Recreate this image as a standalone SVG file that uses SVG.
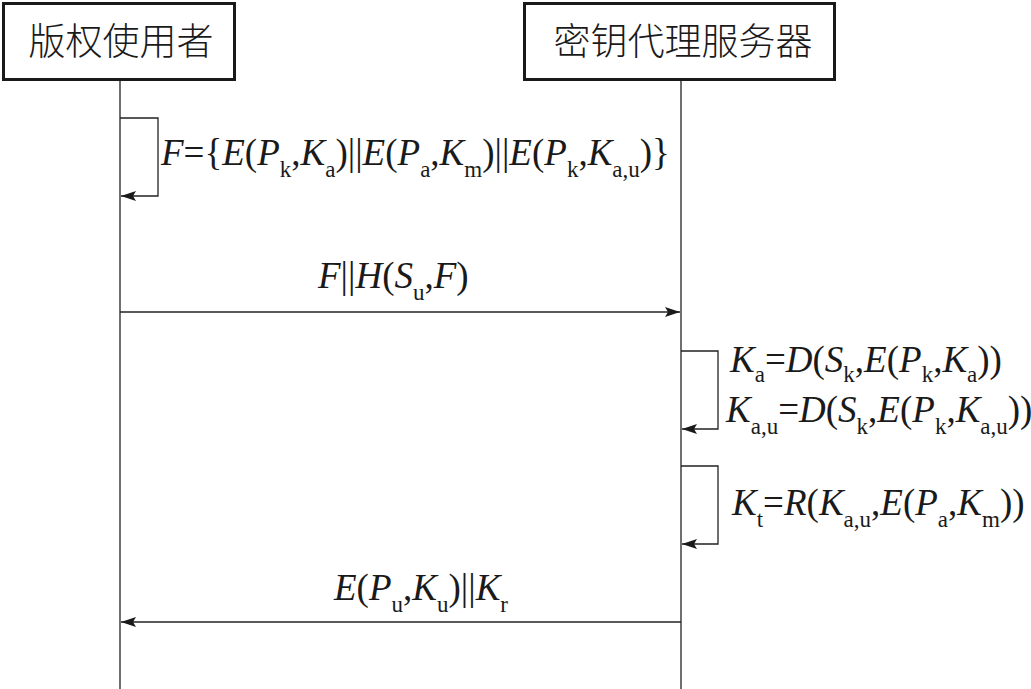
<svg xmlns="http://www.w3.org/2000/svg" width="1031" height="689" viewBox="0 0 1031 689">
<style>
.box{fill:#fff;stroke:#1a1a1a;stroke-width:3}
.cjk{font-family:"Noto Sans CJK SC","Noto Sans CJK JP",sans-serif;font-size:37px;font-weight:300;fill:#1a1a1a;text-anchor:middle}
.life{stroke:#222;stroke-width:1.3;fill:none}
.msg{stroke:#222;stroke-width:1.3;fill:none}
.f{font-family:"Liberation Serif","Times New Roman",serif;font-size:37px;fill:#1a1a1a}
.i{font-style:italic}
.s{font-size:23px;font-style:normal}
</style>
<defs>
<marker id="ah" markerWidth="16" markerHeight="12" refX="15" refY="6" orient="auto" markerUnits="userSpaceOnUse">
<path d="M0,1 L15,6 L0,11 L3,6 z" fill="#1a1a1a"/>
</marker>
</defs>
<g id="user">
<rect class="box" x="3.5" y="3.5" width="231" height="76"/>
<text class="cjk" x="121" y="55">版权使用者</text>
</g>
<g id="proxy">
<rect class="box" x="524.5" y="3.5" width="310" height="76"/>
<text class="cjk" x="683" y="55">密钥代理服务器</text>
</g>
<g id="lifelines">
<line class="life" x1="120" y1="81" x2="120" y2="689"/>
<line class="life" x1="681" y1="81" x2="681" y2="689"/>
</g>
<g id="connectors">
<path class="msg" d="M120,118 H158 V196 H121" marker-end="url(#ah)"/>
<line class="msg" x1="120" y1="312" x2="680" y2="312" marker-end="url(#ah)"/>
<path class="msg" d="M681,351 H718 V429 H682" marker-end="url(#ah)"/>
<path class="msg" d="M681,466 H718 V544 H682" marker-end="url(#ah)"/>
<line class="msg" x1="681" y1="622" x2="121" y2="622" marker-end="url(#ah)"/>
</g>
<g id="labels">
<text class="f" x="161" y="165"><tspan class="i">F</tspan>={<tspan class="i">E</tspan>(<tspan class="i">P</tspan><tspan class="s" dy="12">k</tspan><tspan dy="-12">,</tspan><tspan class="i">K</tspan><tspan class="s" dy="12">a</tspan><tspan dy="-12">)||</tspan><tspan class="i">E</tspan>(<tspan class="i">P</tspan><tspan class="s" dy="12">a</tspan><tspan dy="-12">,</tspan><tspan class="i">K</tspan><tspan class="s" dy="12">m</tspan><tspan dy="-12">)||</tspan><tspan class="i">E</tspan>(<tspan class="i">P</tspan><tspan class="s" dy="12">k</tspan><tspan dy="-12">,</tspan><tspan class="i">K</tspan><tspan class="s" dy="12">a,u</tspan><tspan dy="-12">)}</tspan></text>
<text class="f" x="318" y="288"><tspan class="i">F</tspan>||<tspan class="i">H</tspan>(<tspan class="i">S</tspan><tspan class="s" dy="12">u</tspan><tspan dy="-12">,</tspan><tspan class="i">F</tspan>)</text>
<text class="f" x="730" y="372"><tspan class="i">K</tspan><tspan class="s" dy="10">a</tspan><tspan dy="-10">=</tspan><tspan class="i">D</tspan>(<tspan class="i">S</tspan><tspan class="s" dy="10">k</tspan><tspan dy="-10">,</tspan><tspan class="i">E</tspan>(<tspan class="i">P</tspan><tspan class="s" dy="10">k</tspan><tspan dy="-10">,</tspan><tspan class="i">K</tspan><tspan class="s" dy="10">a</tspan><tspan dy="-10">))</tspan></text>
<text class="f" x="726" y="422"><tspan class="i">K</tspan><tspan class="s" dy="12">a,u</tspan><tspan dy="-12">=</tspan><tspan class="i">D</tspan>(<tspan class="i">S</tspan><tspan class="s" dy="12">k</tspan><tspan dy="-12">,</tspan><tspan class="i">E</tspan>(<tspan class="i">P</tspan><tspan class="s" dy="12">k</tspan><tspan dy="-12">,</tspan><tspan class="i">K</tspan><tspan class="s" dy="12">a,u</tspan><tspan dy="-12">))</tspan></text>
<text class="f" x="732" y="515"><tspan class="i">K</tspan><tspan class="s" dy="12">t</tspan><tspan dy="-12">=</tspan><tspan class="i">R</tspan>(<tspan class="i">K</tspan><tspan class="s" dy="12">a,u</tspan><tspan dy="-12">,</tspan><tspan class="i">E</tspan>(<tspan class="i">P</tspan><tspan class="s" dy="12">a</tspan><tspan dy="-12">,</tspan><tspan class="i">K</tspan><tspan class="s" dy="12">m</tspan><tspan dy="-12">))</tspan></text>
<text class="f" x="334" y="600"><tspan class="i">E</tspan>(<tspan class="i">P</tspan><tspan class="s" dy="12">u</tspan><tspan dy="-12">,</tspan><tspan class="i">K</tspan><tspan class="s" dy="12">u</tspan><tspan dy="-12">)||</tspan><tspan class="i">K</tspan><tspan class="s" dy="12">r</tspan></text>
</g>
</svg>
